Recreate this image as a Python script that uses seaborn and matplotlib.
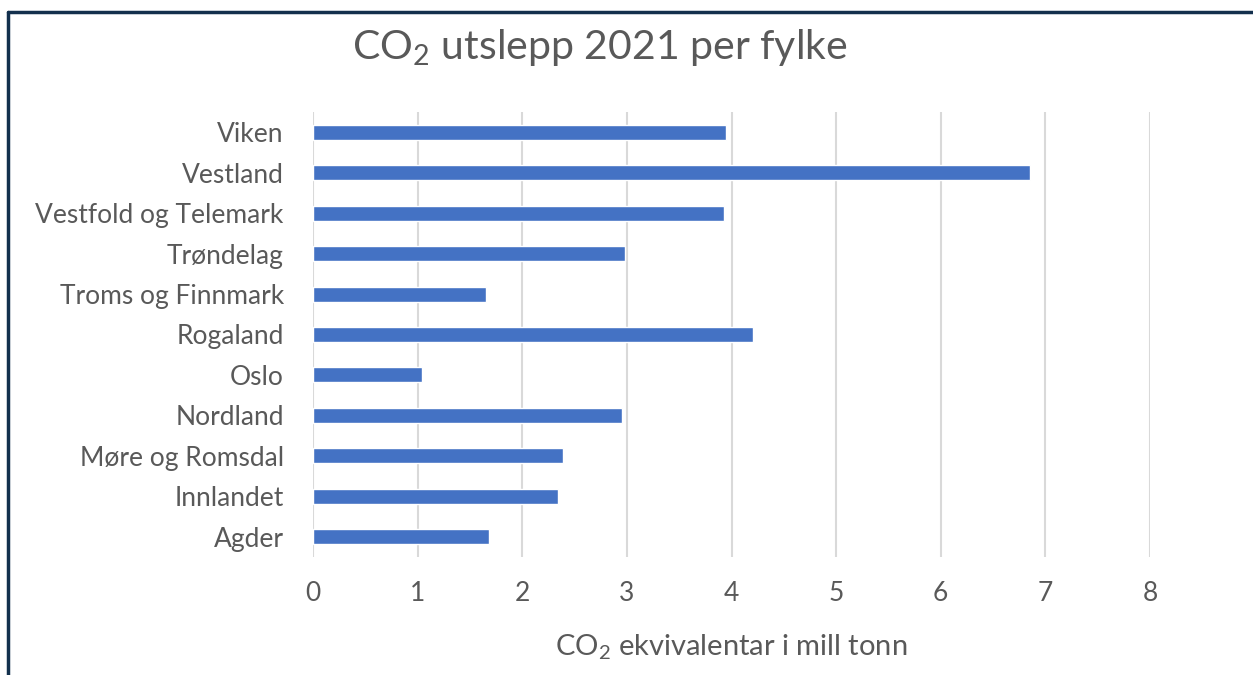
import matplotlib
matplotlib.use("Agg")
import matplotlib.pyplot as plt
import seaborn as sns
import pandas as pd
from matplotlib.lines import Line2D

# Counties and 2021 CO2-equivalent emissions (million tonnes)
fylke = ["Viken", "Vestland", "Vestfold og Telemark", "Trøndelag",
         "Troms og Finnmark", "Rogaland", "Oslo", "Nordland",
         "Møre og Romsdal", "Innlandet", "Agder"]
utslepp = [3.95, 6.85, 3.93, 2.98, 1.65, 4.21, 1.04, 2.95, 2.39, 2.34, 1.68]
x_ticks = [0, 1, 2, 3, 4, 5, 6, 7, 8]

df = pd.DataFrame({"fylke": fylke, "utslepp": utslepp})

sns.set_theme(style="white")
plt.rcParams["font.family"] = ["Lato", "DejaVu Sans"]
plt.rcParams["mathtext.fontset"] = "custom"
plt.rcParams["mathtext.rm"] = "Lato"
plt.rcParams["mathtext.it"] = "Lato"

TEXT = "#595959"

fig = plt.figure(figsize=(12.53, 6.75), dpi=100)
ax = fig.add_axes([313 / 1253, 1 - 557 / 675, (1150 - 313) / 1253, (557 - 112) / 675])

sns.barplot(data=df, x="utslepp", y="fylke", orient="h", color="#4472C4",
            width=0.37, saturation=1, ax=ax, zorder=3)

ax.set_xlim(0, 8)
ax.set_ylim(len(fylke) - 0.5, -0.5)
ax.set_xticks(x_ticks)
ax.set_xticklabels([str(t) for t in x_ticks])
ax.grid(axis="x", color="#d9d9d9", linewidth=1.5, zorder=0)
ax.grid(axis="y", visible=False)
for s in ax.spines.values():
    s.set_visible(False)
ax.tick_params(axis="both", length=0, colors=TEXT, labelsize=19)
ax.tick_params(axis="y", pad=21)
ax.tick_params(axis="x", pad=17)
ax.set_ylabel("")
ax.set_xlabel(r"CO$_\mathrm{2}$ ekvivalentar i mill tonn", color=TEXT,
              fontsize=21, labelpad=19)

fig.text(600 / 1253, 1 - 47 / 675, r"CO$_\mathrm{2}$ utslepp 2021 per fylke",
         ha="center", va="center", color=TEXT, fontsize=29.5)

# Frame lines along the top and left edges
fig.add_artist(Line2D([8 / 1253, 1], [1 - 12 / 675, 1 - 12 / 675],
                      transform=fig.transFigure, color="#13304d", linewidth=2.5))
fig.add_artist(Line2D([8 / 1253, 8 / 1253], [0, 1 - 12 / 675],
                      transform=fig.transFigure, color="#13304d", linewidth=2.5))

fig.savefig("out.png", dpi=100, facecolor="white")
